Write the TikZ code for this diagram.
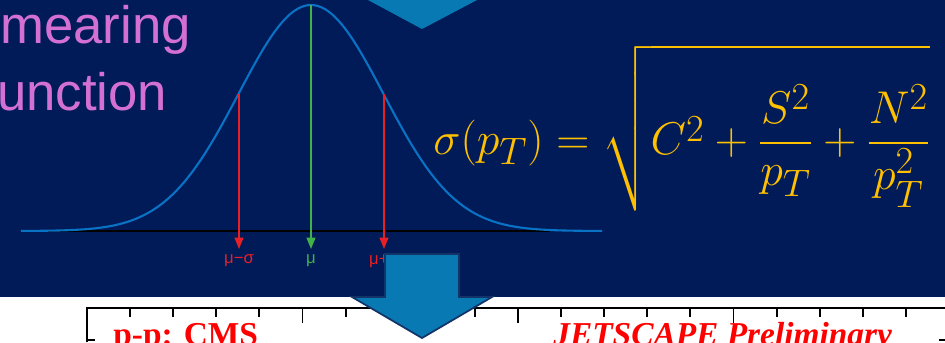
\documentclass[tikz,border=0pt]{standalone}
\usepackage{amsmath}
\usepackage{graphicx}
\usepackage{fontspec}
\setmainfont{Liberation Serif}
\setsansfont{Liberation Sans}
\usetikzlibrary{arrows.meta}
\definecolor{slidebg}{RGB}{0,27,88}
\definecolor{arrowblue}{RGB}{8,121,178}
\definecolor{arrowedge}{RGB}{18,52,104}
\definecolor{curveblue}{RGB}{10,114,196}
\definecolor{smearpink}{RGB}{212,112,212}
\definecolor{formulagold}{RGB}{255,192,0}
\definecolor{mured}{RGB}{232,32,38}
\definecolor{mugreen}{RGB}{64,178,72}
\begin{document}
\begin{tikzpicture}[
        x=0.02cm, y=-0.02cm,
        >={Triangle[length=6.5pt,width=5pt]},
        title/.style={font=\sffamily\fontsize{30}{34}\selectfont, text=smearpink, anchor=base west, inner sep=0pt},
        formula/.style={font=\fontsize{28.5}{32}\selectfont, text=formulagold, anchor=west, inner sep=0pt},
        mulab/.style={font=\sffamily\fontsize{9.5}{10}\selectfont, anchor=north, inner sep=3pt},
        drop/.style={->, line width=1pt},
        blockarrow/.style={fill=arrowblue},
        frame/.style={line width=1.6pt},
        axtick/.style={line width=1.1pt},
        plotlab/.style={font=\bfseries\fontsize{19}{20}\selectfont, text=red, anchor=base west, inner sep=0pt}
    ]
        \useasboundingbox (0,0) rectangle (945,342);
        \clip (0,0) rectangle (945,342);
        \fill[slidebg] (0,0) rectangle (945,297);

        \node[title] (smear) at (0,43) {mearing};
        \node[title] (func) at (-3,110) {unction};

        \draw[line width=1.2pt] (21,231) -- (550,231);
        \draw[curveblue, line width=1.2pt, domain=21:602, samples=150] plot (\x, {231-226*exp(-0.5*((\x-311)/72.5)^2)});

        \coordinate (lo-top) at (239,94);
        \coordinate (mu-top) at (311,5);
        \coordinate (hi-top) at (384,94);
        \node[mulab, text=mured] (lo-lab) at (239,249) {μ−σ};
        \node[mulab, text=mugreen] (mu-lab) at (311,249) {μ};
        \node[mulab, text=mured] (hi-lab) at (384,249) {μ+σ};
        \draw[drop, mured] (lo-top) -- (lo-lab);
        \draw[drop, mugreen] (mu-top) -- (mu-lab);
        \draw[drop, mured] (hi-top) -- (hi-lab);

        \node[formula] (resol) at (433,128) {\scalebox{1.05}{$\displaystyle \sigma(p_T) = \sqrt{\rule[-1.05em]{0pt}{2.9em}C^2+\frac{S^2}{p_T}+\frac{N^2}{p_T^2}}$}};

        \draw[frame] (87,342) -- (87,308) -- (945,308);
        \foreach \k in {1,...,20} {
            \pgfmathsetmacro{\tx}{87+43.1*\k}
            \pgfmathsetmacro{\tl}{ifthenelse(mod(\k,5)==0,15,9)}
            \draw[axtick] (\tx,308) -- (\tx,308+\tl);
        }
        \draw[axtick] (87,340) -- (95,340);
        \draw[axtick] (939,340) -- (945,340);
        \node[plotlab] (pp-cms) at (113,345) {p-p: CMS};
        \node[plotlab, font=\bfseries\itshape\fontsize{19}{20}\selectfont] (jet-prelim) at (553,345) {JETSCAPE Preliminary};

        \fill[blockarrow] (368,0) -- (477,0) -- (422,29) -- cycle;
        \draw[blockarrow, draw=arrowedge, line width=1pt] (385,254) -- (459,254) -- (459,297) -- (492,297) -- (422,338) -- (352,297) -- (385,297) -- cycle;
    \end{tikzpicture}
\end{document}
